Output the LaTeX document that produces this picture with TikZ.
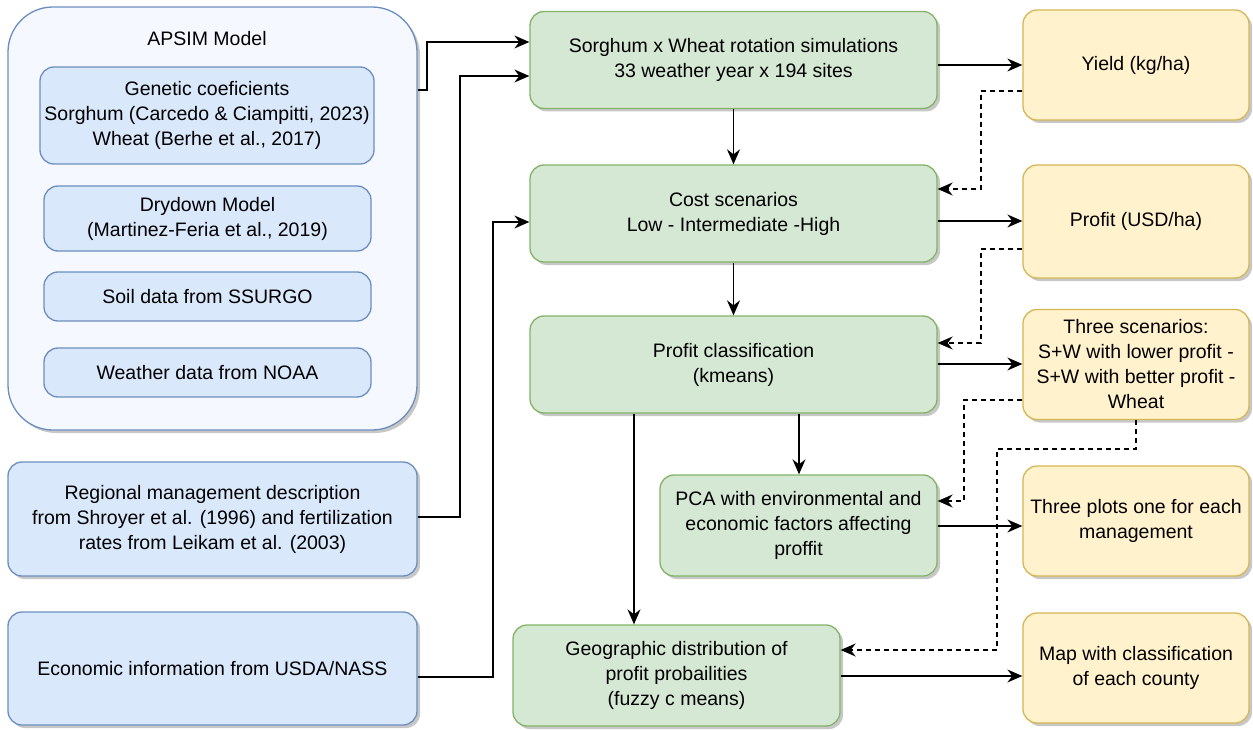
\documentclass[tikz,border=0pt]{standalone}
\usepackage{fontspec}
\setmainfont{Liberation Sans}
\usetikzlibrary{arrows.meta,shadows}
\definecolor{bfill}{HTML}{DAE8FC}
\definecolor{bdraw}{HTML}{6C8EBF}
\definecolor{afill}{HTML}{F5F9FF}
\definecolor{gfill}{HTML}{D5E8D4}
\definecolor{gdraw}{HTML}{82B366}
\definecolor{yfill}{HTML}{FFF2CC}
\definecolor{ydraw}{HTML}{D6B656}
\begin{document}
\begin{tikzpicture}[x=1pt,y=-1pt,
  font=\fontsize{19.5}{25}\selectfont,
  shad/.style={drop shadow={shadow xshift=3pt,shadow yshift=-3pt,fill=black,opacity=0.22}},
  base/.style={rounded corners=14pt,line width=1.3pt,align=center,inner sep=0pt},
  bluebox/.style={base,fill=bfill,draw=bdraw},
  greenbox/.style={base,shad,fill=gfill,draw=gdraw},
  yellowbox/.style={base,shad,fill=yfill,draw=ydraw},
  conn/.style={line width=1.5pt,-{Stealth[length=15pt,width=13pt,inset=5pt]}},
  dconn/.style={conn,dash pattern=on 5pt off 4pt}]
\useasboundingbox (0,0) rectangle (1253,730);

% APSIM group
\node[base,shad,rounded corners=45pt,fill=afill,draw=bdraw,minimum width=409pt,minimum height=423pt] (apsim) at (212.5,218.5) {};
\node (apsimtitle) at (207,39) {APSIM Model};
\node[bluebox,minimum width=334pt,minimum height=97pt] (gen) at (207,115.5) {Genetic coeficients\\Sorghum (Carcedo \& Ciampitti, 2023)\\Wheat (Berhe et al., 2017)};
\node[bluebox,minimum width=327pt,minimum height=65pt] (dry) at (207.5,218.5) {Drydown Model\\(Martinez-Feria et al., 2019)};
\node[bluebox,minimum width=327pt,minimum height=49pt] (soil) at (207.5,296.5) {Soil data from SSURGO};
\node[bluebox,minimum width=327pt,minimum height=49pt] (wea) at (207.5,372.5) {Weather data from NOAA};

\node[bluebox,shad,minimum width=409pt,minimum height=114pt] (reg) at (212.5,519) {Regional management description\\from Shroyer et al. (1996) and fertilization\\rates from Leikam et al. (2003)};
\node[bluebox,shad,minimum width=409pt,minimum height=113pt] (eco) at (212.5,668.5) {Economic information from USDA/NASS};

% green
\node[greenbox,minimum width=407pt,minimum height=97pt] (sorg) at (733.5,60) {Sorghum x Wheat rotation simulations\\33 weather year x 194 sites};
\node[greenbox,minimum width=407pt,minimum height=97pt] (cost) at (733.5,213.5) {Cost scenarios\\Low - Intermediate -High};
\node[greenbox,minimum width=407pt,minimum height=97pt] (pclass) at (733.5,364.5) {Profit classification\\(kmeans)};
\node[greenbox,minimum width=277pt,minimum height=101pt] (pca) at (798.5,525.5) {PCA with environmental and\\economic factors affecting\\proffit};
\node[greenbox,minimum width=327pt,minimum height=101pt] (geo) at (676.5,675.5) {Geographic distribution of\\profit probailities\\(fuzzy c means)};

% yellow
\node[yellowbox,minimum width=226pt,minimum height=110pt] (yield) at (1136,65) {Yield (kg/ha)};
\node[yellowbox,minimum width=226pt,minimum height=113pt] (profit) at (1136,221.5) {Profit (USD/ha)};
\node[yellowbox,minimum width=226pt,minimum height=110pt] (three) at (1136,364.5) {Three scenarios:\\S+W with lower profit -\\S+W with better profit -\\Wheat};
\node[yellowbox,minimum width=226pt,minimum height=110pt] (plots) at (1136,521) {Three plots one for each\\management};
\node[yellowbox,minimum width=226pt,minimum height=110pt] (map) at (1136,668) {Map with classification\\of each county};

% solid connectors
\draw[conn] (apsim.east |- 0,90) -- (427,90) -- (427,42) -- (sorg.west |- 0,42);
\draw[conn] (reg.east |- 0,517) -- (460,517) -- (460,76) -- (sorg.west |- 0,76);
\draw[conn] (eco.east |- 0,677) -- (493,677) -- (493,222) -- (cost.west |- 0,222);
\draw[conn] (sorg.south) -- (cost.north);
\draw[conn] (cost.south) -- (pclass.north);
\draw[conn] (sorg.east |- 0,65) -- (yield.west |- 0,65);
\draw[conn] (cost.east |- 0,221) -- (profit.west |- 0,221);
\draw[conn] (pclass.east |- 0,364) -- (three.west |- 0,364);
\draw[conn] (pca.east |- 0,526) -- (plots.west |- 0,526);
\draw[conn] (geo.east |- 0,676) -- (map.west |- 0,676);
\draw[conn] (pclass.south -| 799,0) -- (pca.north -| 799,0);
\draw[conn] (pclass.south -| 634,0) -- (geo.north -| 634,0);

% dashed connectors
\draw[dconn] (yield.west |- 0,91) -- (981,91) -- (981,189) -- (cost.east |- 0,189);
\draw[dconn] (profit.west |- 0,249) -- (981,249) -- (981,343) -- (pclass.east |- 0,343);
\draw[dconn] (three.west |- 0,400) -- (964,400) -- (964,501) -- (pca.east |- 0,501);
\draw[dconn] (three.south) -- (1136,449) -- (997,449) -- (997,650) -- (geo.east |- 0,650);
\end{tikzpicture}
\end{document}
